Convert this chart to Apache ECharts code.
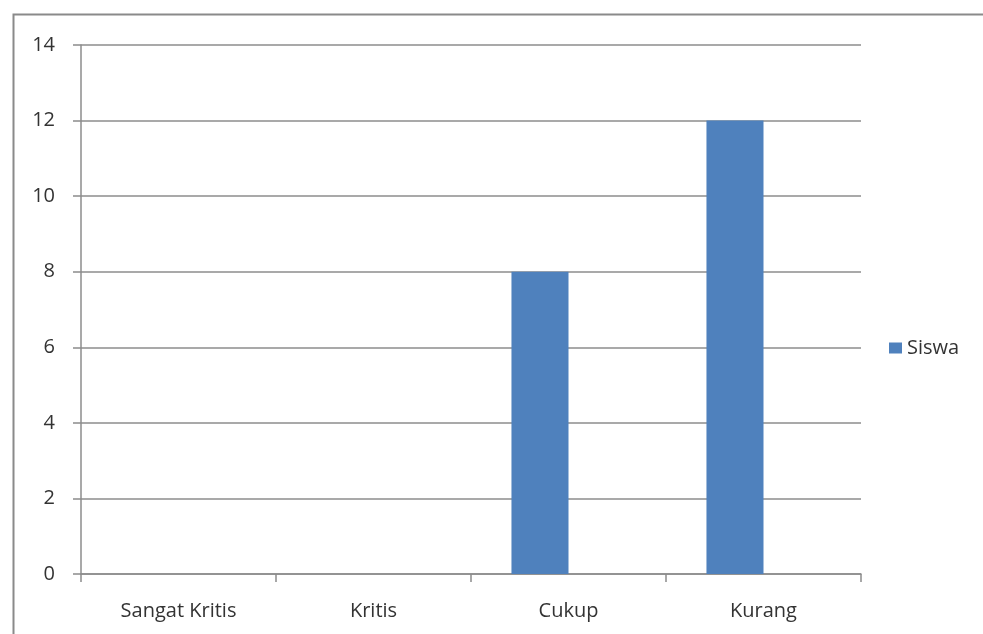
<!DOCTYPE html>
<html>
<head>
<meta charset="utf-8">
<script src="https://cdn.jsdelivr.net/npm/echarts@6/dist/echarts.min.js"></script>
<style>
  html, body { margin: 0; padding: 0; background: #fff; }
  #chart { width: 983px; height: 634px; }
</style>
</head>
<body>
<div id="chart"></div>
<script>
// Category labels along the horizontal axis
const categories = ['Sangat Kritis', 'Kritis', 'Cukup', 'Kurang'];
// Number of students per category
const siswa = [0, 0, 8, 12];
// Empty companion series (keeps the clustered bar slot, no visible marks)
const blank = [0, 0, 0, 0];
// Value axis range
const yMin = 0, yMax = 14, yStep = 2;

const chart = echarts.init(document.getElementById('chart'), null, { renderer: 'canvas' });
const axisGray = '#8c8c8c';
const textColor = '#333333';
const font = '"Open Sans", "Liberation Sans", sans-serif';

chart.setOption({
  animation: false,
  backgroundColor: '#ffffff',
  graphic: [{
    type: 'polyline',
    shape: { points: [[13.5, 640], [13.5, 14.5], [990, 14.5]] },
    style: { stroke: '#8a8a8a', lineWidth: 2, fill: null },
    silent: true
  }],
  grid: { left: 81, top: 45, right: 122, bottom: 60, containLabel: false },
  legend: {
    data: ['Siswa'],
    left: 884, top: 333,
    itemWidth: 13, itemHeight: 11, itemGap: 8,
    icon: 'rect',
    textStyle: { color: textColor, fontSize: 20, fontFamily: font }
  },
  xAxis: {
    type: 'category',
    data: categories,
    axisLine: { lineStyle: { color: axisGray, width: 1.5 } },
    axisTick: { show: true, alignWithLabel: false, length: 8, lineStyle: { color: axisGray, width: 1.5 } },
    axisLabel: { color: textColor, fontSize: 20, fontFamily: font, margin: 27 },
    splitLine: { show: false }
  },
  yAxis: {
    type: 'value',
    min: yMin, max: yMax, interval: yStep,
    axisLine: { show: true, lineStyle: { color: axisGray, width: 1.5 } },
    axisTick: { show: true, length: 8, lineStyle: { color: axisGray, width: 1.5 } },
    axisLabel: { color: textColor, fontSize: 20, fontFamily: font, margin: 26 },
    splitLine: { show: true, lineStyle: { color: axisGray, width: 1.5 } }
  },
  series: [
    {
      name: 'Siswa', type: 'bar', data: siswa,
      itemStyle: { color: '#4f81bd' },
      barGap: '0%', barCategoryGap: '41.5%'
    },
    {
      name: 'blank', type: 'bar', data: blank,
      itemStyle: { color: 'rgba(0,0,0,0)' },
      barGap: '0%', barCategoryGap: '41.5%'
    }
  ]
});
</script>
</body>
</html>
